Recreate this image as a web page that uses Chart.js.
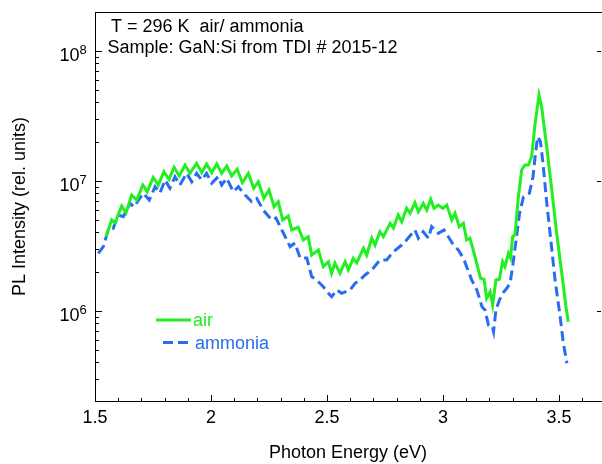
<!DOCTYPE html>
<html><head><meta charset="utf-8">
<script src="https://cdn.jsdelivr.net/npm/chart.js@4.4.0/dist/chart.umd.min.js"></script>
<style>html,body{margin:0;padding:0;background:#fff}#wrap{width:602px;height:464px}</style>
</head><body><div id="wrap"><canvas id="c" width="602" height="464"></canvas></div>
<script>
// ---- data ----
const seriesLabels = ['air', 'ammonia'];
const airEnergy = [1.547,1.572,1.586,1.615,1.634,1.658,1.680,1.706,1.725,1.751,1.773,1.797,1.819,1.841,1.863,1.888,1.909,1.938,1.960,1.981,2.003,2.025,2.046,2.068,2.089,2.113,2.135,2.161,2.184,2.204,2.228,2.250,2.272,2.290,2.309,2.333,2.348,2.376,2.398,2.419,2.434,2.463,2.484,2.506,2.520,2.534,2.556,2.578,2.592,2.613,2.628,2.657,2.671,2.693,2.707,2.728,2.743,2.772,2.786,2.807,2.822,2.843,2.858,2.879,2.894,2.915,2.930,2.947,2.961,2.980,2.999,3.016,3.038,3.052,3.070,3.088,3.102,3.116,3.138,3.162,3.177,3.188,3.203,3.214,3.228,3.243,3.257,3.267,3.282,3.291,3.300,3.310,3.325,3.339,3.353,3.368,3.382,3.397,3.414,3.425,3.447,3.469,3.490,3.512,3.530,3.540];
const airIntensity = [3.71e6,4.99e6,4.73e6,6.39e6,5.67e6,7.76e6,7.10e6,9.27e6,8.23e6,1.062e7,9.27e6,1.173e7,1.025e7,1.268e7,1.087e7,1.32e7,1.14e7,1.36e7,1.152e7,1.345e7,1.152e7,1.345e7,1.14e7,1.298e7,1.087e7,1.224e7,9.65e6,1.14e7,8.74e6,9.82e6,7.32e6,8.48e6,6.31e6,6.90e6,4.99e6,5.35e6,4.18e6,4.38e6,3.50e6,3.71e6,2.68e6,2.93e6,2.18e6,2.38e6,1.94e6,2.33e6,1.94e6,2.38e6,2.06e6,2.53e6,2.33e6,3.02e6,2.68e6,3.61e6,3.20e6,4.05e6,3.71e6,4.70e6,4.33e6,5.45e6,4.84e6,6.13e6,5.61e6,6.77e6,5.77e6,6.70e6,5.95e6,7.19e6,6.13e6,6.50e6,6.13e6,6.50e6,4.99e6,5.61e6,4.43e6,4.70e6,3.50e6,3.61e6,2.60e6,1.775e6,1.744e6,1.246e6,1.40e6,1.106e6,1.72e6,1.744e6,2.38e6,2.18e6,2.76e6,2.54e6,3.71e6,3.82e6,7.53e6,1.209e7,1.32e7,1.32e7,1.53e7,2.76e7,4.56e7,3.71e7,1.826e7,8.48e6,3.94e6,1.94e6,1.073e6,8.23e5];
const ammoniaEnergy = [1.514,1.536,1.557,1.579,1.600,1.622,1.651,1.668,1.708,1.734,1.759,1.780,1.802,1.823,1.845,1.866,1.895,1.917,1.938,1.960,1.981,2.003,2.031,2.046,2.068,2.096,2.118,2.140,2.175,2.197,2.225,2.262,2.280,2.305,2.341,2.362,2.384,2.413,2.434,2.456,2.484,2.506,2.520,2.542,2.563,2.599,2.621,2.642,2.664,2.693,2.728,2.757,2.786,2.822,2.843,2.879,2.894,2.915,2.937,2.951,2.980,3.004,3.023,3.045,3.066,3.088,3.102,3.124,3.146,3.168,3.181,3.196,3.211,3.218,3.228,3.243,3.257,3.275,3.289,3.300,3.315,3.330,3.347,3.372,3.388,3.397,3.408,3.420,3.431,3.446,3.463,3.483,3.503,3.519,3.534];
const ammoniaIntensity = [2.76e6,3.11e6,4.18e6,4.30e6,5.45e6,5.29e6,6.70e6,6.28e6,8.00e6,7.10e6,8.99e6,8.04e6,1.012e7,8.74e6,1.073e7,9.27e6,1.14e7,9.82e6,1.14e7,1.012e7,1.14e7,9.55e6,1.073e7,9.27e6,1.044e7,8.23e6,8.99e6,8.00e6,6.90e6,7.32e6,5.95e6,4.99e6,5.17e6,4.18e6,3.11e6,3.32e6,2.54e6,2.54e6,1.826e6,1.72e6,1.53e6,1.36e6,1.28e6,1.443e6,1.36e6,1.443e6,1.625e6,1.72e6,1.882e6,2.06e6,2.455e6,2.455e6,2.84e6,3.20e6,3.50e6,4.18e6,3.61e6,4.05e6,3.61e6,4.43e6,3.94e6,4.18e6,3.71e6,3.20e6,2.93e6,2.53e6,2.18e6,1.72e6,1.443e6,1.073e6,1.012e6,7.76e5,7.76e5,6.90e5,1.012e6,1.209e6,1.36e6,1.487e6,1.625e6,2.18e6,3.50e6,5.61e6,7.53e6,8.00e6,1.073e7,1.53e7,2.18e7,2.00e7,1.36e7,7.10e6,3.71e6,1.72e6,9.55e5,5.61e5,3.94e5];
const xTickValues = [1.5, 2, 2.5, 3, 3.5];
const xTickLabels = ['1.5', '2', '2.5', '3', '3.5'];
const yTickValues = [1e6, 1e7, 1e8];
const yTickBase = '10';
const yTickExponents = ['6', '7', '8'];
const titleLines = ['T = 296 K  air/ ammonia', 'Sample: GaN:Si from TDI # 2015-12'];
const xTitle = 'Photon Energy (eV)';
const yTitle = 'PL Intensity (rel. units)';

const FONT = '"Liberation Sans", Arial, Helvetica, sans-serif';
Chart.defaults.font.family = FONT;
Chart.defaults.font.size = 18;
Chart.defaults.color = '#000';

const zip = (xs, ys) => xs.map((x, i) => ({x: x, y: ys[i]}));

const decorPlugin = {
  id: 'decor',
  afterDraw(chart) {
    const ctx = chart.ctx;
    const xs = chart.scales.x, ys = chart.scales.y;
    const a = chart.chartArea;
    ctx.save();
    ctx.strokeStyle = '#000';
    ctx.lineWidth = 1;
    ctx.beginPath();
    // top frame line
    ctx.moveTo(a.left, Math.round(a.top) + 0.5);
    ctx.lineTo(chart.width, Math.round(a.top) + 0.5);
    // left axis ticks (major + minor), inward
    for (let e = 5; e <= 8; e++) {
      for (let k = 1; k <= 9; k++) {
        const v = k * Math.pow(10, e);
        if (v < ys.min || v > ys.max) continue;
        const py = Math.round(ys.getPixelForValue(v)) + 0.5;
        const len = k === 1 ? 7 : 4;
        ctx.moveTo(a.left, py); ctx.lineTo(a.left + len, py);
        if (k === 1) { ctx.moveTo(a.right, py); ctx.lineTo(a.right - 4, py); }
      }
    }
    // bottom axis ticks, inward
    for (let i = 15; i <= 36; i++) {
      const v = i / 10;
      if (v > xs.max) continue;
      const px = Math.round(xs.getPixelForValue(v)) + 0.5;
      const len = i % 5 === 0 ? 6 : 3;
      ctx.moveTo(px, a.bottom); ctx.lineTo(px, a.bottom - len);
    }
    ctx.stroke();
    // y tick labels with superscript exponents
    ctx.fillStyle = '#000';
    yTickValues.forEach((v, i) => {
      const py = ys.getPixelForValue(v);
      ctx.textBaseline = 'alphabetic';
      ctx.textAlign = 'right';
      ctx.font = '18px ' + FONT;
      ctx.fillText(yTickBase, 79.5, py + 10);
      ctx.textAlign = 'left';
      ctx.font = '13px ' + FONT;
      ctx.fillText(yTickExponents[i], 79.5, py + 3.5);
    });
    // annotation text
    ctx.font = '18px ' + FONT;
    ctx.textBaseline = 'alphabetic';
    ctx.textAlign = 'left';
    ctx.fillText(titleLines[0], 111, 32);
    ctx.fillText(titleLines[1], 107.5, 52.5);
    // legend
    const legendPos = [{x0: 156, x1: 191, y: 320, tx: 193, ty: 326}, {x0: 163, x1: 191, y: 342.5, tx: 195, ty: 349}];
    chart.data.datasets.forEach((ds, i) => {
      const p = legendPos[i];
      ctx.strokeStyle = ds.borderColor;
      ctx.lineWidth = ds.borderWidth;
      ctx.setLineDash(ds.borderDash || []);
      ctx.beginPath();
      ctx.moveTo(p.x0, p.y); ctx.lineTo(p.x1, p.y);
      ctx.stroke();
      ctx.setLineDash([]);
      ctx.fillStyle = ds.borderColor;
      ctx.fillText(ds.label, p.tx, p.ty);
    });
    ctx.restore();
  }
};

new Chart(document.getElementById('c'), {
  type: 'line',
  data: {
    datasets: [
      {label: seriesLabels[0], data: zip(airEnergy, airIntensity), borderColor: '#22ee22', borderWidth: 3, pointRadius: 0, tension: 0, fill: false},
      {label: seriesLabels[1], data: zip(ammoniaEnergy, ammoniaIntensity), borderColor: '#2a6cf0', borderWidth: 3, borderDash: [10, 5], pointRadius: 0, tension: 0, fill: false}
    ]
  },
  options: {
    responsive: false,
    animation: false,
    devicePixelRatio: 1,
    layout: {padding: {top: 12, right: 1, left: 0, bottom: 0}},
    plugins: {legend: {display: false}, tooltip: {enabled: false}},
    scales: {
      x: {
        type: 'linear', min: 1.5, max: 3.681,
        afterBuildTicks: s => { s.ticks = xTickValues.map(v => ({value: v})); },
        afterFit: s => { s.height = 63; },
        ticks: {padding: 6, maxRotation: 0, autoSkip: false, color: '#000',
          callback: v => xTickLabels[xTickValues.indexOf(v)]},
        grid: {display: false, drawTicks: false},
        border: {display: true, color: '#000', width: 1},
        title: {display: true, text: xTitle, color: '#000', padding: {top: 0, bottom: 0}}
      },
      y: {
        type: 'logarithmic', min: 2.02e5, max: 1.985e8,
        afterBuildTicks: s => { s.ticks = yTickValues.map(v => ({value: v})); },
        afterFit: s => { s.width = 95; },
        ticks: {display: false},
        grid: {display: false, drawTicks: false},
        border: {display: true, color: '#000', width: 1},
        title: {display: true, text: yTitle, color: '#000', padding: {top: 9, bottom: 0}}
      }
    }
  },
  plugins: [decorPlugin]
});
</script>
</body></html>
